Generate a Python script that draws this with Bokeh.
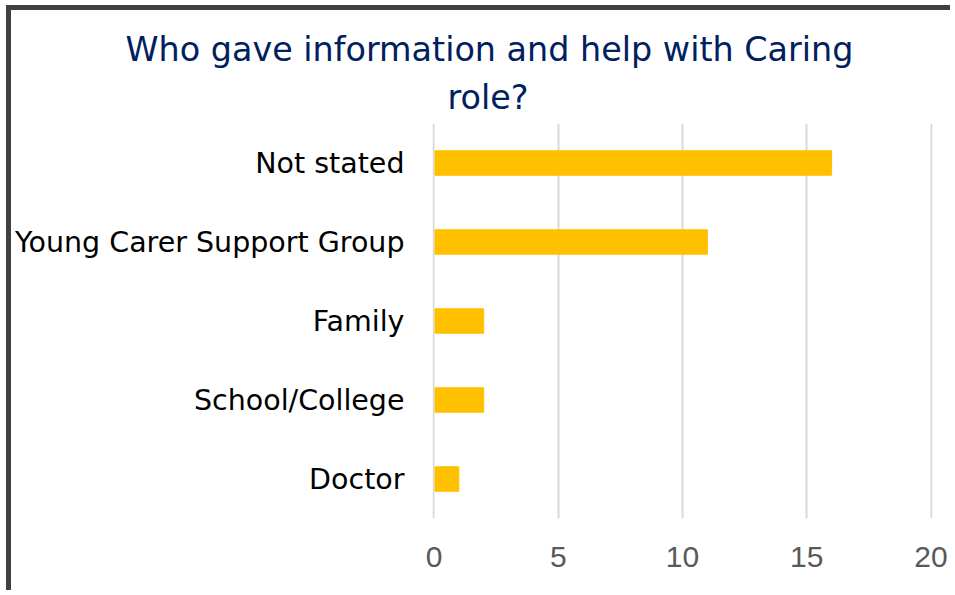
from bokeh.plotting import figure
from bokeh.models import Range1d, FactorRange, Title
from bokeh.embed import file_html
from bokeh.resources import INLINE

title_lines = ["Who gave information and help with Caring", "role?"]
categories = ["Not stated", "Young Carer Support Group", "Family", "School/College", "Doctor"]
values = [16, 11, 2, 2, 1]
x_ticks = [0, 5, 10, 15, 20]

p = figure(
    width=944, height=585,
    y_range=FactorRange(factors=categories[::-1], range_padding=0),
    x_range=Range1d(-0.06, 20.06),
    output_backend="svg", toolbar_location=None,
    min_border_left=420, min_border_right=23, min_border_top=113, min_border_bottom=77,
)
p.styles = {"border-left": "5px solid #404040", "border-top": "5px solid #404040",
            "margin-left": "6px", "margin-top": "5px"}
p.outline_line_color = None
p.background_fill_color = "white"
p.border_fill_color = "white"

p.hbar(y=categories, right=values, left=0.04, height=0.31, color="#FFC000")

p.xaxis.ticker = x_ticks
p.xaxis.axis_line_color = None
p.xaxis.major_tick_line_color = None
p.xaxis.minor_tick_line_color = None
p.xaxis.major_tick_out = 0
p.xaxis.major_tick_in = 0
p.xaxis.major_label_text_font = "Liberation Sans"
p.xaxis.major_label_text_font_size = "30px"
p.xaxis.major_label_text_color = "#595959"
p.xaxis.major_label_standoff = 28

p.yaxis.axis_line_color = None
p.yaxis.major_tick_line_color = None
p.yaxis.minor_tick_line_color = None
p.yaxis.major_tick_out = 0
p.yaxis.major_tick_in = 0
p.yaxis.major_label_text_font = "DejaVu Sans"
p.yaxis.major_label_text_font_size = "28.5px"
p.yaxis.major_label_text_color = "#000000"
p.yaxis.major_label_standoff = 28

p.xgrid.grid_line_color = "#D9D9D9"
p.xgrid.grid_line_width = 2
p.ygrid.grid_line_color = None

# titles: added bottom-up in the "above" panel
for line, off, so in [(title_lines[1], 446 - 431, 14), (title_lines[0], 124 - 431, 0)]:
    t = Title(text=line, align="left", offset=off, text_font="DejaVu Sans",
              text_font_size="33.4px", text_color="#002060", text_font_style="normal",
              standoff=so)
    p.add_layout(t, "above")

open("out.html", "w").write(file_html(p, INLINE))
